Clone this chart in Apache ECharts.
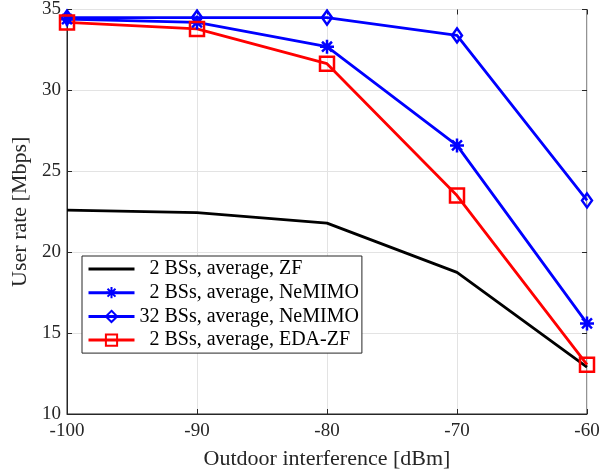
<!DOCTYPE html>
<html>
<head>
<meta charset="utf-8">
<script src="https://cdn.jsdelivr.net/npm/echarts@6/dist/echarts.min.js"></script>
<style>
  html, body { margin: 0; padding: 0; background: #fff; }
  #chart { width: 615px; height: 476px; }
</style>
</head>
<body>
<div id="chart"></div>
<script>
// interference levels [dBm]
const xValues = [-100, -90, -80, -70, -60]

// user rate [Mbps]
const zf2 = [22.6, 22.45, 21.8, 18.75, 12.9]
const nemimo2 = [34.4, 34.2, 32.7, 26.6, 15.6]
const nemimo32 = [34.5, 34.5, 34.5, 33.4, 23.2]
const edazf2 = [34.2, 33.8, 31.65, 23.5, 13.05]

const seriesNames = [
  '2 BSs, average, ZF',
  '2 BSs, average, NeMIMO',
  '32 BSs, average, NeMIMO',
  '2 BSs, average, EDA-ZF'
]

const FONT = 'Liberation Serif'
const AXIS = '#262626'

// MATLAB-like markers, drawn hollow so lines show through
const starPath = 'path://M0,5L10,5M5,0L5,10M1.46,1.46L8.54,8.54M8.54,1.46L1.46,8.54'
const diamondPath = 'path://M5,0L10,7L5,14L0,7Z'
const squarePath = 'path://M0,0L10,0L10,10L0,10Z'

const pairs = (ys) => xValues.map((x, i) => [x, ys[i]])

const makeSeries = (name, data, color, symbol, size) => ({
  name,
  type: 'line',
  data: pairs(data),
  symbol: symbol || 'none',
  symbolSize: size || 0,
  showSymbol: !!symbol,
  lineStyle: { width: 2.8, color },
  // no marker -> invisible legend symbol too
  itemStyle: {
    color: 'rgba(0,0,0,0)',
    borderColor: symbol ? color : 'rgba(0,0,0,0)',
    borderWidth: symbol ? 2.5 : 0
  },
  emphasis: { disabled: true },
  z: 3
})

const chart = echarts.init(document.getElementById('chart'))

chart.setOption({
  animation: false,
  backgroundColor: '#fff',
  textStyle: { fontFamily: FONT },
  grid: {
    left: 67, right: 28, top: 5, bottom: 62,
    show: true, borderColor: AXIS, borderWidth: 1
  },
  legend: {
    data: seriesNames,
    orient: 'vertical',
    left: 82,
    top: 256,
    padding: [3, 3, 3, 5],
    itemWidth: 46,
    itemHeight: 14,
    itemGap: 3.7,
    backgroundColor: '#fff',
    borderColor: AXIS,
    borderWidth: 1,
    borderRadius: 0,
    lineStyle: { width: 3 },
    formatter: (n) => n.startsWith('2 ') ? '{pad|}' + n : n,
    textStyle: {
      fontFamily: FONT, fontSize: 20, color: '#000', lineHeight: 20,
      rich: { pad: { width: 10 } }
    }
  },
  xAxis: [
    {
      type: 'value',
      min: -100, max: -60, interval: 10,
      name: 'Outdoor interference [dBm]',
      nameLocation: 'middle',
      nameGap: 34,
      nameTextStyle: { fontFamily: FONT, fontSize: 22, color: '#262626' },
      axisLine: { lineStyle: { color: AXIS, width: 1 } },
      axisTick: { inside: true, length: 5, lineStyle: { color: AXIS } },
      axisLabel: { fontFamily: FONT, fontSize: 19, color: '#262626', margin: 8 },
      splitLine: { lineStyle: { color: '#e3e3e3', width: 1 } }
    },
    {
      type: 'value', position: 'top',
      min: -100, max: -60, interval: 10,
      axisLine: { show: false },
      axisTick: { inside: true, length: 5, lineStyle: { color: AXIS } },
      axisLabel: { show: false },
      splitLine: { show: false }
    }
  ],
  yAxis: [
    {
      type: 'value',
      min: 10, max: 35, interval: 5,
      name: 'User rate [Mbps]',
      nameLocation: 'middle',
      nameGap: 32,
      nameTextStyle: { fontFamily: FONT, fontSize: 22, color: '#262626' },
      axisLine: { show: true, lineStyle: { color: AXIS, width: 1 } },
      axisTick: { show: true, inside: true, length: 5, lineStyle: { color: AXIS } },
      axisLabel: { fontFamily: FONT, fontSize: 19, color: '#262626', margin: 6 },
      splitLine: { lineStyle: { color: '#e3e3e3', width: 1 } }
    },
    {
      type: 'value', position: 'right',
      min: 10, max: 35, interval: 5,
      axisLine: { show: false },
      axisTick: { show: true, inside: true, length: 5, lineStyle: { color: AXIS } },
      axisLabel: { show: false },
      splitLine: { show: false }
    }
  ],
  series: [
    makeSeries(seriesNames[0], zf2, '#000000'),
    makeSeries(seriesNames[1], nemimo2, '#0000ff', starPath, 14),
    makeSeries(seriesNames[2], nemimo32, '#0000ff', diamondPath, [10, 14]),
    makeSeries(seriesNames[3], edazf2, '#ff0000', squarePath, 14)
  ]
})
</script>
</body>
</html>
